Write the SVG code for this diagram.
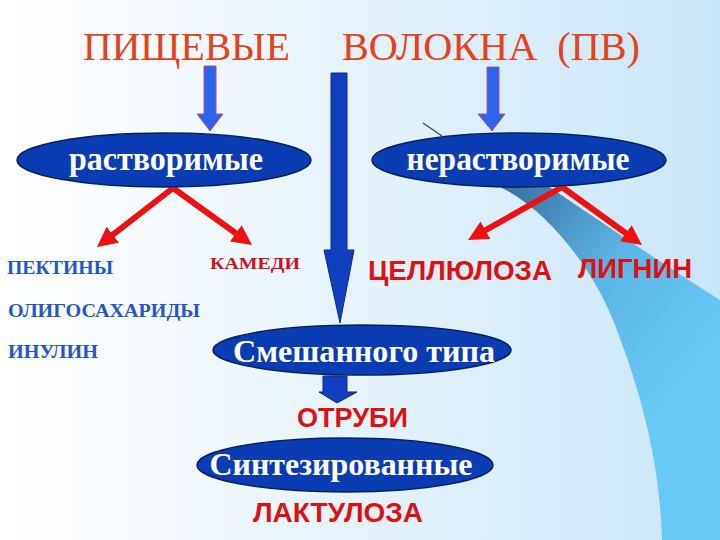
<svg xmlns="http://www.w3.org/2000/svg" width="720" height="540" viewBox="0 0 720 540">
<defs>
<linearGradient id="bg" x1="0" y1="0" x2="1" y2="0">
<stop offset="0" stop-color="#ffffff"/>
<stop offset="0.18" stop-color="#f7fbfe"/>
<stop offset="1" stop-color="#c9e6f8"/>
</linearGradient>
<linearGradient id="sw" gradientUnits="userSpaceOnUse" x1="500" y1="200" x2="700" y2="360">
<stop offset="0" stop-color="#3a74a6"/>
<stop offset="0.5" stop-color="#5bb6e6"/>
<stop offset="1" stop-color="#68c9f6"/>
</linearGradient>
<marker id="rh" markerUnits="userSpaceOnUse" markerWidth="22" markerHeight="22" refX="12" refY="10" orient="auto">
<path d="M0,0 L20,10 L0,20 Z" fill="#ee1111"/>
</marker>
<style>
.ell{fill:#0a3cb4;stroke:#06215e;stroke-width:1.5}
.et{font-family:"Liberation Serif","Times New Roman",serif;font-weight:bold;fill:#ffffff;text-anchor:middle}
.title{font-family:"Liberation Serif","Times New Roman",serif;fill:#e8401a;font-size:41px}
.bl{font-family:"Liberation Serif","Times New Roman",serif;font-weight:bold;fill:#2456c8;font-size:18px}
.rs{font-family:"Liberation Serif","Times New Roman",serif;font-weight:bold;fill:#d01020;font-size:17px}
.rl{font-family:"Liberation Sans",Arial,sans-serif;font-weight:bold;fill:#dd1111;font-size:27px}
.red{stroke:#ee1111;stroke-width:6;fill:none;marker-end:url(#rh)}
.ba{fill:#2a64ec;stroke:#b05088;stroke-width:1}
.big{fill:#1040c0;stroke:#0a2a8a;stroke-width:1}
</style>
</defs>
<rect x="0" y="0" width="720" height="540" fill="url(#bg)"/>
<path d="M498,186 C540,205 590,260 615,325 C640,390 660,460 662,540 L720,540 L720,300 C680,275 620,235 548,186 Z" fill="url(#sw)"/>
<line x1="423" y1="123" x2="442" y2="136" stroke="#2a6040" stroke-width="1.5"/>

<g id="title">
<text class="title" x="83" y="60" textLength="207" lengthAdjust="spacingAndGlyphs">ПИЩЕВЫЕ</text>
<text class="title" x="342" y="60" textLength="298" lengthAdjust="spacingAndGlyphs" xml:space="preserve">ВОЛОКНА  (ПВ)</text>
</g>

<g id="connectors">
<polygon class="ba" points="204,66 216,66 216,114 223,114 210,131 197,114 204,114"/>
<polygon class="ba" points="487,67 499,67 499,114 505,114 492,131 478,114 487,114"/>
<polygon class="big" points="331,73 347,73 347,250 354,250 340,323 324,250 331,250"/>
<polygon class="big" points="323,376 347,376 347,392 357,392 337,403 319,392 323,392"/>
<line class="red" x1="173" y1="188" x2="103.3" y2="242.1"/>
<line class="red" x1="173" y1="188" x2="245.5" y2="240.3"/>
<line class="red" x1="562" y1="187" x2="475" y2="236.1"/>
<line class="red" x1="562" y1="187" x2="635.5" y2="240.3"/>
</g>

<g id="node-soluble">
<ellipse class="ell" cx="164" cy="160" rx="147" ry="27"/>
<text class="et" x="166" y="170" font-size="34" textLength="194" lengthAdjust="spacingAndGlyphs">растворимые</text>
</g>
<g id="node-insoluble">
<ellipse class="ell" cx="519" cy="160" rx="147" ry="27"/>
<text class="et" x="518" y="170" font-size="34" textLength="223" lengthAdjust="spacingAndGlyphs">нерастворимые</text>
</g>
<g id="node-mixed">
<ellipse class="ell" cx="362" cy="350" rx="149" ry="25"/>
<text class="et" x="364" y="362" font-size="31" textLength="262" lengthAdjust="spacingAndGlyphs">Смешанного типа</text>
</g>
<g id="node-synth">
<ellipse class="ell" cx="345" cy="465" rx="148" ry="27"/>
<text class="et" x="341" y="475" font-size="31" textLength="263" lengthAdjust="spacingAndGlyphs">Синтезированные</text>
</g>

<g id="labels">
<text class="bl" x="7" y="274" textLength="106" lengthAdjust="spacingAndGlyphs">ПЕКТИНЫ</text>
<text class="bl" x="8" y="317" textLength="192" lengthAdjust="spacingAndGlyphs">ОЛИГОСАХАРИДЫ</text>
<text class="bl" x="8" y="358" textLength="90" lengthAdjust="spacingAndGlyphs">ИНУЛИН</text>
<text class="rs" x="210" y="269" textLength="90" lengthAdjust="spacingAndGlyphs">КАМЕДИ</text>
<text class="rl" x="368" y="280" textLength="184" lengthAdjust="spacingAndGlyphs">ЦЕЛЛЮЛОЗА</text>
<text class="rl" x="578" y="278" textLength="114" lengthAdjust="spacingAndGlyphs">ЛИГНИН</text>
<text class="rl" x="297" y="427" textLength="111" lengthAdjust="spacingAndGlyphs">ОТРУБИ</text>
<text class="rl" x="253" y="522" textLength="170" lengthAdjust="spacingAndGlyphs">ЛАКТУЛОЗА</text>
</g>
</svg>
